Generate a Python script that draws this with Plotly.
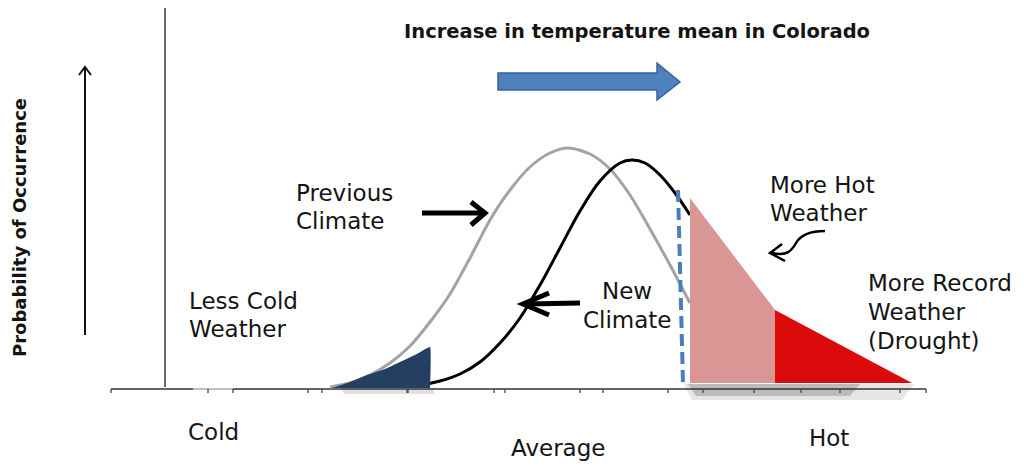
import plotly.graph_objects as go

# ---------------- data (x = temperature scale, y = probability scale, both in image units) ----
prev_x = [330, 350, 370, 390, 410, 430, 450, 470, 490, 510, 530, 550, 568, 590, 610, 630, 650, 670, 690]
prev_y = [387, 383, 375, 363, 346, 322, 294, 258, 220, 190, 167, 153, 148, 154, 169, 195, 229, 265, 303]

new_x = [400, 420, 440, 460, 480, 500, 520, 540, 560, 580, 600, 620, 632, 645, 660, 675, 690]
new_y = [386, 385, 381, 374, 362, 343, 318, 285, 248, 211, 181, 163, 160, 163, 175, 193, 215]

cold_tail_x = [332, 350, 367, 385, 400, 415, 430, 430]
cold_tail_y = [388, 382, 375, 369, 362, 355, 347, 388]

hot_tail_x = [690, 775, 775, 690]
hot_tail_y = [198, 310, 383, 383]

record_tail_x = [775, 912, 775]
record_tail_y = [310, 383, 383]

threshold_x = [678, 683]
threshold_y = [190, 383]

ticks_a = [111, 208, 308, 407, 505, 603, 703, 801, 900]
ticks_b = [233, 322, 408, 494, 580, 668, 754, 840, 926]
axis_y = 389

title = "Increase in temperature mean in Colorado"
y_label = "Probability of Occurrence"

FONT = "DejaVu Sans"
TXT = "#141414"

fig = go.Figure()

# drop shadows
fig.add_trace(go.Scatter(x=[684, 914, 902, 692], y=[384, 384, 400, 400], fill="toself", mode="lines",
                         line=dict(width=0), fillcolor="rgba(0,0,0,0.10)", hoverinfo="skip"))
fig.add_trace(go.Scatter(x=[688, 860, 850, 696], y=[384, 384, 396, 396], fill="toself", mode="lines",
                         line=dict(width=0), fillcolor="rgba(0,0,0,0.18)", hoverinfo="skip"))
fig.add_trace(go.Scatter(x=[340, 434, 434, 345], y=[388, 388, 394, 394], fill="toself", mode="lines",
                         line=dict(width=0), fillcolor="rgba(0,0,0,0.12)", hoverinfo="skip"))

# x axis baseline
fig.add_trace(go.Scatter(x=[111, 193], y=[axis_y, axis_y], mode="lines", line=dict(color="#333333", width=1.6), hoverinfo="skip"))
fig.add_trace(go.Scatter(x=[193, 233], y=[axis_y, axis_y], mode="lines", line=dict(color="#aaaaaa", width=1.4), hoverinfo="skip"))
fig.add_trace(go.Scatter(x=[233, 926], y=[axis_y, axis_y], mode="lines", line=dict(color="#333333", width=1.6), hoverinfo="skip"))
tx, ty = [], []
for t in ticks_a + ticks_b:
    tx += [t, t, None]
    ty += [axis_y, axis_y + 4, None]
fig.add_trace(go.Scatter(x=tx, y=ty, mode="lines", line=dict(color="#444444", width=1.3), hoverinfo="skip"))

# vertical axis line
fig.add_trace(go.Scatter(x=[165, 165], y=[8, 387], mode="lines", line=dict(color="#444444", width=1.6), hoverinfo="skip"))

# curves
fig.add_trace(go.Scatter(x=prev_x, y=prev_y, mode="lines", line=dict(color="#a3a3a3", width=3, shape="spline", smoothing=0.8), hoverinfo="skip"))
fig.add_trace(go.Scatter(x=new_x, y=new_y, mode="lines", line=dict(color="#000000", width=3, shape="spline"), hoverinfo="skip"))

# shaded tails
fig.add_trace(go.Scatter(x=cold_tail_x, y=cold_tail_y, fill="toself", mode="lines", line=dict(width=0, shape="spline", smoothing=0.3),
                         fillcolor="#243f62", hoverinfo="skip"))
fig.add_trace(go.Scatter(x=threshold_x, y=threshold_y, mode="lines", line=dict(color="#4a7ebb", width=4, dash="12px,6px"), hoverinfo="skip"))
fig.add_trace(go.Scatter(x=hot_tail_x, y=hot_tail_y, fill="toself", mode="lines", line=dict(width=0),
                         fillcolor="#d99694", hoverinfo="skip"))
fig.add_trace(go.Scatter(x=record_tail_x, y=record_tail_y, fill="toself", mode="lines", line=dict(width=0),
                         fillcolor="#dc0a0a", hoverinfo="skip"))

shapes = []
# big blue arrow
shapes.append(dict(type="path", xref="x", yref="y",
                   path="M498,73 L657,73 L657,63 L680,82 L657,100 L657,90 L498,90 Z",
                   fillcolor="#4f81bd", line=dict(color="#3a639a", width=1.5)))
# up arrow
shapes.append(dict(type="line", xref="x", yref="y", x0=85, y0=335, x1=85, y1=68, line=dict(color="#111", width=2)))
shapes.append(dict(type="path", xref="x", yref="y", path="M79,75 L85,67 L91,75", line=dict(color="#111", width=2)))
# previous climate arrow
shapes.append(dict(type="line", xref="x", yref="y", x0=422, y0=213, x1=482, y1=213, line=dict(color="#000", width=5)))
shapes.append(dict(type="path", xref="x", yref="y", path="M471,202 L485,213 L471,225", line=dict(color="#000", width=5)))
# new climate arrow
shapes.append(dict(type="line", xref="x", yref="y", x0=580, y0=303, x1=526, y1=304, line=dict(color="#000", width=5)))
shapes.append(dict(type="path", xref="x", yref="y", path="M549,293 L523,304 L549,315", line=dict(color="#000", width=5)))
# curvy arrow
shapes.append(dict(type="path", xref="x", yref="y",
                   path="M825,231 C808,231 800,236 796,243 C791,252 786,256 772,253",
                   line=dict(color="#000", width=2.5)))
shapes.append(dict(type="path", xref="x", yref="y", path="M782,244 L770,253 L785,261", line=dict(color="#000", width=2.5)))

ann = []
def txt(x, y, s, anchor="left", size=23, bold=False):
    ann.append(dict(x=x, y=y, xref="x", yref="y", text=f"<b>{s}</b>" if bold else s, showarrow=False,
                    xanchor=anchor, yanchor="middle",
                    font=dict(family=FONT, size=size, color=TXT)))

txt(637, 31, title, anchor="center", size=19.5, bold=True)
txt(294, 193, "Previous")
txt(294, 221, "Climate")
txt(768, 185, "More Hot")
txt(768, 213, "Weather")
txt(866, 283, "More Record")
txt(866, 312, "Weather")
txt(866, 341, "(Drought)")
txt(187, 301, "Less Cold")
txt(187, 329, "Weather")
txt(627, 291, "New", anchor="center")
txt(627, 320, "Climate", anchor="center")
txt(186, 432, "Cold")
txt(558, 448, "Average", anchor="center")
txt(829, 438, "Hot", anchor="center")
ann.append(dict(x=19, y=228, xref="x", yref="y", text=f"<b>{y_label}</b>", showarrow=False, textangle=-90,
                xanchor="center", yanchor="middle", font=dict(family=FONT, size=18, color=TXT)))

# the page has an 8px body margin, so the figure is sized and ranged to keep image coordinates aligned
fig.update_layout(
    width=1016, height=460,
    margin=dict(l=0, r=0, t=0, b=0),
    paper_bgcolor="white", plot_bgcolor="white",
    showlegend=False,
    shapes=shapes, annotations=ann,
    xaxis=dict(range=[8, 1024], visible=False, fixedrange=True),
    yaxis=dict(range=[468, 8], visible=False, fixedrange=True),
)
fig.write_html("out.html")
